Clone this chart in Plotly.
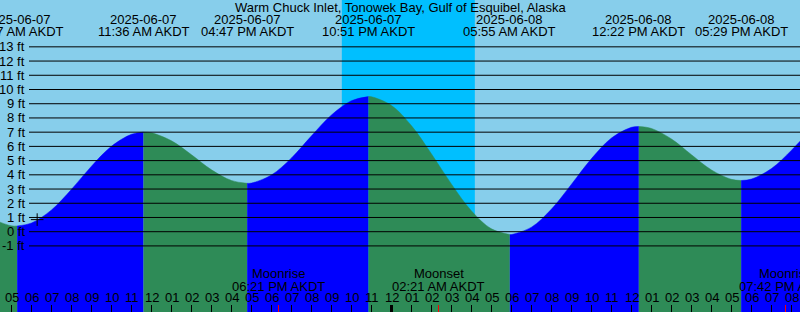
import plotly.graph_objects as go
import pandas as pd

# ---------------- data ----------------
TITLE = "Warm Chuck Inlet, Tonowek Bay, Gulf of Esquibel, Alaska"
TZ_LABEL = "AKDT"

# tide heights (ft) read at each whole hour, starting 2025-06-07 04:00
HOURLY_START = "2025-06-07 04:00"
HOURLY_HEIGHTS = [
    0.90, 0.41, 0.61, 1.53, 2.98, 4.61, 6.01, 6.85,   # 04..11
    6.95, 6.39, 5.41, 4.35, 3.60, 3.42, 3.99, 5.19,   # 12..19
    6.74, 8.21, 9.21, 9.49,                           # 20..23
    8.88, 7.45, 5.47, 3.34, 1.46, 0.20, -0.20, 0.32,  # 06-08 00..07
    1.59, 3.34, 5.14, 6.59, 7.34, 7.26, 6.52, 5.41,   # 08..15
    4.34, 3.68, 3.70, 4.44, 5.73, 7.25,               # 16..21
]

# high / low tide events
EXTREME_TIMES = ["2025-06-07 05:17", "2025-06-07 11:36", "2025-06-07 16:47",
                 "2025-06-07 22:51", "2025-06-08 05:55", "2025-06-08 12:22",
                 "2025-06-08 17:29"]
EXTREME_HEIGHTS = [0.4, 7.0, 3.4, 9.5, -0.2, 7.4, 3.6]

SUNSET = "2025-06-07 21:31"
SUNRISE = "2025-06-08 04:10"

MOON_EVENTS = ["Moonrise", "Moonset", "Moonrise"]
MOON_TIMES = ["2025-06-07 18:21", "2025-06-08 02:21", "2025-06-08 19:42"]

FT_LEVELS = list(range(-1, 14))
NOW_TIME = "2025-06-07 06:17"
NOW_HEIGHT = 0.85

X_START = "2025-06-07 04:25:30"
X_END = "2025-06-08 20:25:30"
Y_RANGE = [-5.647, 16.294]

# ---------------- styling ----------------
W, H = 800, 312
SKY = "#87CEEB"
NIGHT = "#00BFFF"
RISING = "#0000FF"
FALLING = "#2E8B57"
FONT = "Liberation Sans"
FS = 13


def py(px):
    """pixel from top -> paper y"""
    return 1 - px / H


hourly_t = pd.date_range(HOURLY_START, periods=len(HOURLY_HEIGHTS), freq="h")
ext_t = pd.to_datetime(EXTREME_TIMES)

pts = [(t, h) for t, h in zip(hourly_t, HOURLY_HEIGHTS)]
pts += [(t, h) for t, h in zip(ext_t, EXTREME_HEIGHTS)]
pts.sort(key=lambda p: p[0])

bounds = [hourly_t[0]] + list(ext_t) + [hourly_t[-1]]

fig = go.Figure()
ymin = Y_RANGE[0]
for a, b in zip(bounds[:-1], bounds[1:]):
    seg = [p for p in pts if a <= p[0] <= b]
    xs = [p[0] for p in seg]
    ys = [p[1] for p in seg]
    color = RISING if ys[-1] > ys[0] else FALLING
    fig.add_trace(go.Scatter(x=[a, b], y=[ymin, ymin], mode="lines",
                             line=dict(width=0, color=color),
                             showlegend=False, hoverinfo="skip"))
    fig.add_trace(go.Scatter(x=xs, y=ys, mode="lines",
                             line=dict(width=0.5, color=color, shape="spline"),
                             fill="tonexty", fillcolor=color,
                             showlegend=False, hoverinfo="skip"))

# current-time cross
fig.add_trace(go.Scatter(x=[pd.Timestamp(NOW_TIME)], y=[NOW_HEIGHT], mode="markers",
                         marker=dict(symbol="cross-thin", size=9,
                                     line=dict(width=1, color="black")),
                         showlegend=False, hoverinfo="skip"))

shapes = []
# night band
shapes.append(dict(type="rect", xref="x", yref="paper", x0=SUNSET, x1=SUNRISE,
                   y0=0, y1=1, fillcolor=NIGHT, line=dict(width=0), layer="below"))
# height lines
for lv in FT_LEVELS:
    shapes.append(dict(type="line", xref="paper", yref="y", x0=29 / W, x1=1,
                       y0=lv, y1=lv, line=dict(color="black", width=1), layer="above"))
# midnight tick
mid = pd.Timestamp("2025-06-08 00:00")
shapes.append(dict(type="line", xref="x", yref="paper", x0=mid, x1=mid,
                   y0=0, y1=7 / H, line=dict(color="black", width=3), layer="above"))
# moon ticks
for mt in MOON_TIMES:
    shapes.append(dict(type="line", xref="x", yref="paper", x0=mt, x1=mt,
                       y0=0, y1=7 / H, line=dict(color="red", width=1), layer="above"))

ann = []
font = dict(family=FONT, size=FS, color="black")
ann.append(dict(text=TITLE, xref="paper", yref="paper", x=0.5, y=py(7.5),
                xanchor="center", yanchor="middle", showarrow=False, font=font))
for t in ext_t:
    ann.append(dict(text=t.strftime("%Y-%m-%d"), xref="x", yref="paper", x=t, y=py(19.5),
                    xanchor="center", yanchor="middle", showarrow=False, font=font))
    ann.append(dict(text=t.strftime("%I:%M %p ") + TZ_LABEL, xref="x", yref="paper", x=t,
                    y=py(31.5), xanchor="center", yanchor="middle", showarrow=False, font=font))
for lv in FT_LEVELS:
    ann.append(dict(text=f"{lv} ft", xref="paper", yref="y", x=27 / W, y=lv,
                    xanchor="right", yanchor="middle", showarrow=False, font=font))
for name, mt in zip(MOON_EVENTS, pd.to_datetime(MOON_TIMES)):
    ann.append(dict(text=name, xref="x", yref="paper", x=mt, y=py(273.5),
                    xanchor="center", yanchor="middle", showarrow=False, font=font))
    ann.append(dict(text=mt.strftime("%I:%M %p ") + TZ_LABEL, xref="x", yref="paper", x=mt,
                    y=py(286), xanchor="center", yanchor="middle", showarrow=False, font=font))
for ht in pd.date_range(pd.Timestamp(X_START).ceil("h"), X_END, freq="h"):
    ann.append(dict(text=ht.strftime("%I"), xref="x", yref="paper", x=ht, y=py(297.5),
                    xanchor="center", yanchor="middle", showarrow=False, font=font))

fig.update_layout(
    width=W, height=H, margin=dict(l=0, r=0, t=0, b=0),
    paper_bgcolor=SKY, plot_bgcolor=SKY,
    shapes=shapes, annotations=ann, showlegend=False,
    xaxis=dict(range=[X_START, X_END], showgrid=False, zeroline=False,
               showline=False, ticks="inside", ticklen=7, tickwidth=1,
               tickcolor="black", dtick=3600000, tick0="2025-06-07 00:00",
               showticklabels=False, fixedrange=True),
    yaxis=dict(range=Y_RANGE, showgrid=False, zeroline=False, showline=False,
               showticklabels=False, ticks="", fixedrange=True),
)

fig.write_html("out.html")
